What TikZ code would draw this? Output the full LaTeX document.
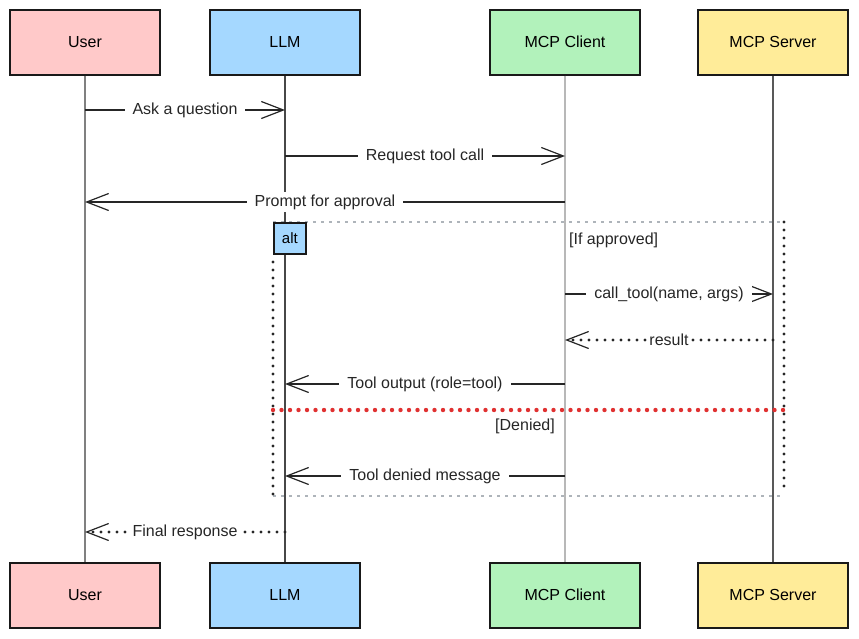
\documentclass[tikz,border=0pt]{standalone}
\usepackage{fontspec}
\setmainfont{Liberation Sans}
\usetikzlibrary{arrows.meta,positioning,calc}
\definecolor{userfill}{HTML}{FFC9C9}
\definecolor{llmfill}{HTML}{A5D8FF}
\definecolor{clientfill}{HTML}{B2F2BB}
\definecolor{serverfill}{HTML}{FFEC99}
\definecolor{framegray}{HTML}{AEB4BA}
\definecolor{denyred}{HTML}{E03131}
\tikzstyle{actor} = [draw=black!90,line width=2pt,minimum width=150pt,minimum height=65pt,inner sep=0pt,font=\fontsize{16}{18}\selectfont]
\tikzstyle{life} = [line width=1.3pt]
\tikzstyle{msg} = [line width=1.6pt,black!85,-{Straight Barb[length=22pt,width=17pt,line width=1.2pt]}]
\tikzstyle{reply} = [msg,line width=3.2pt,dash pattern=on 0pt off 8pt,line cap=round]
\tikzstyle{lbl} = [fill=white,inner xsep=8pt,inner ysep=3pt,text=black!85,font=\fontsize{16}{18}\selectfont]
\tikzstyle{guard} = [inner sep=0pt,text=black!85,font=\fontsize{16}{18}\selectfont]
\tikzset{>=latex}

\begin{document}
\begin{tikzpicture}[x=1pt,y=-1pt]
    \useasboundingbox (0,0) rectangle (859,638);

    % actors, top and bottom
    \node [actor,fill=userfill] (user) at (85,42) {User};
    \node [actor,fill=llmfill] (llm) at (285,42) {LLM};
    \node [actor,fill=clientfill] (client) at (565,42) {MCP Client};
    \node [actor,fill=serverfill] (server) at (773,42) {MCP Server};
    \node [actor,fill=userfill] (userB) at (85,595) {User};
    \node [actor,fill=llmfill] (llmB) at (285,595) {LLM};
    \node [actor,fill=clientfill] (clientB) at (565,595) {MCP Client};
    \node [actor,fill=serverfill] (serverB) at (773,595) {MCP Server};

    % lifelines
    \draw [life,black!50] (user) -- (userB);
    \draw [life,black!72] (llm) -- (llmB);
    \draw [life,black!28] (client) -- (clientB);
    \draw [life,black!65] (server) -- (serverB);

    % alt frame
    \coordinate (altNW) at (273,222);
    \coordinate (altSE) at (784,496);
    \draw [framegray,line width=2pt,dash pattern=on 3pt off 5pt] (altNW) -- (altNW -| altSE);
    \draw [framegray,line width=2pt,dash pattern=on 3pt off 5pt] (altNW |- altSE) -- (altSE);
    \draw [black!85,line width=3.2pt,dash pattern=on 0pt off 8pt,line cap=round] ($(altNW)+(0,40)$) -- (altNW |- altSE);
    \draw [black!85,line width=3.2pt,dash pattern=on 0pt off 8pt,line cap=round] ($(altNW -| altSE)$) -- ($(altSE)+(0,-6)$);
    \node [draw=black!90,fill=llmfill,line width=1.8pt,minimum width=32pt,minimum height=31pt,inner sep=0pt,anchor=north west,font=\fontsize{15}{17}\selectfont] (alt) at (altNW) {alt};
    \draw [denyred,line width=4.4pt,dash pattern=on 0pt off 8.5pt,line cap=round] (273,410) coordinate (sepW) -- (sepW -| altSE);
    \node [guard,anchor=west] (ifok) at (569,240) {[If approved]};
    \node [guard,anchor=east] (deny) at (555,426) {[Denied]};

    % messages
    \draw [msg] (user |- 0,110) -- node [lbl] (m1) {Ask a question} (llm |- 0,110);
    \draw [msg] (llm |- 0,156) -- node [lbl] (m2) {Request tool call} (client |- 0,156);
    \draw [msg] (client |- 0,202) -- node [lbl] (m3) {Prompt for approval} (user |- 0,202);
    \draw [msg] (client |- 0,294) -- node [lbl] (m4) {call\_tool(name, args)} (server |- 0,294);
    \draw [reply] (server |- 0,340) -- node [lbl,inner xsep=2pt] (m5) {result} (client |- 0,340);
    \draw [msg] (client |- 0,384) -- node [lbl] (m6) {Tool output (role=tool)} (llm |- 0,384);
    \draw [msg] (client |- 0,476) -- node [lbl] (m7) {Tool denied message} (llm |- 0,476);
    \draw [reply] (llm |- 0,532) -- node [lbl,inner xsep=2pt] (m8) {Final response} (user |- 0,532);
\end{tikzpicture}
\end{document}
